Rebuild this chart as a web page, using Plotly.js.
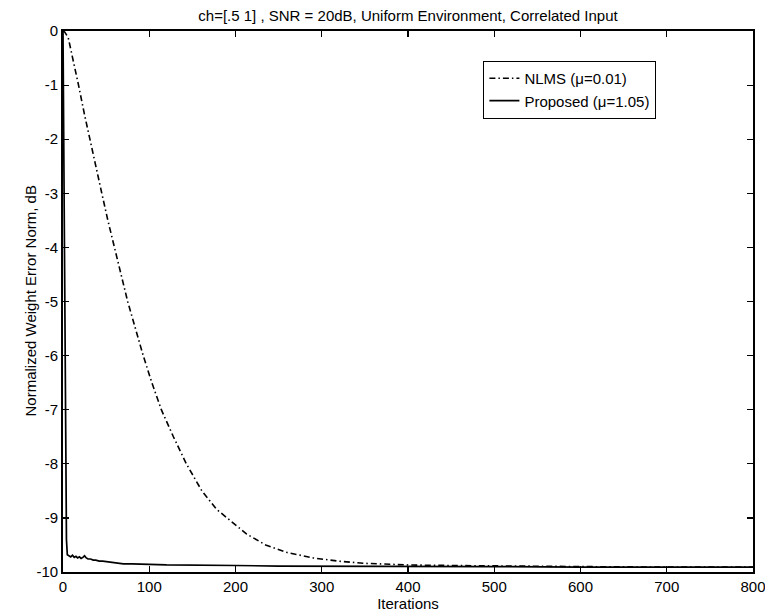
<!DOCTYPE html>
<html>
<head>
<meta charset="utf-8">
<script src="https://cdn.plot.ly/plotly-3.0.1.min.js"></script>
<style>html,body{margin:0;padding:0;background:#fff;}#chart{width:765px;height:615px;}</style>
</head>
<body>
<div id="chart"></div>
<script>
const nlmsX = [0, 2, 6, 12, 18, 25, 31, 38, 45, 52, 60, 67, 75, 84, 93, 103, 114, 128, 143, 161, 178, 194, 213, 235, 260, 290, 320, 350, 400, 450, 500, 600, 700, 800];
const nlmsY = [0, -0.02, -0.12, -0.55, -1.0, -1.55, -2.0, -2.5, -3.0, -3.5, -4.0, -4.48, -5.0, -5.5, -6.0, -6.5, -7.0, -7.5, -8.0, -8.5, -8.84, -9.05, -9.3, -9.5, -9.64, -9.74, -9.8, -9.84, -9.87, -9.88, -9.89, -9.9, -9.91, -9.91];

const propX = [0, 1, 2, 3, 4, 5, 7, 9, 11, 13, 15, 17, 19, 21, 23, 25, 27, 29, 32, 35, 38, 42, 46, 50, 55, 60, 65, 70, 80, 90, 100, 120, 150, 200, 250, 300, 400, 500, 600, 700, 800];
const propY = [0, -2.5, -5.5, -8.2, -9.4, -9.68, -9.7, -9.72, -9.69, -9.73, -9.71, -9.74, -9.72, -9.75, -9.73, -9.7, -9.74, -9.76, -9.76, -9.78, -9.78, -9.8, -9.8, -9.81, -9.82, -9.83, -9.84, -9.85, -9.85, -9.86, -9.86, -9.87, -9.87, -9.88, -9.89, -9.89, -9.9, -9.9, -9.91, -9.91, -9.91];

const xTicks = [0, 100, 200, 300, 400, 500, 600, 700, 800];
const yTicks = [0, -1, -2, -3, -4, -5, -6, -7, -8, -9, -10];

const fam = 'Liberation Sans, Arial, Helvetica, sans-serif';
const font = {family: fam, size: 15, color: '#000'};

const traces = [
  {x: nlmsX, y: nlmsY, type: 'scatter', mode: 'lines', name: 'NLMS (\u03bc=0.01)',
   line: {color: '#000', width: 1.6, dash: '6px,3px,1.5px,3px'}},
  {x: propX, y: propY, type: 'scatter', mode: 'lines', name: 'Proposed (\u03bc=1.05)',
   line: {color: '#000', width: 1.7}}
];

const layout = {
  width: 765, height: 615,
  margin: {l: 63, r: 12, t: 31, b: 43},
  paper_bgcolor: '#fff', plot_bgcolor: '#fff',
  font: font,
  showlegend: true,
  title: {text: 'ch=[.5 1] , SNR = 20dB, Uniform Environment, Correlated Input',
          font: {family: fam, size: 15, color: '#000'},
          x: 0.5, xref: 'paper', y: 1 - 16/615, yref: 'container', yanchor: 'middle'},
  xaxis: {range: [0, 800], tickvals: xTicks, ticktext: xTicks.map(String),
          showgrid: false, zeroline: false, showline: true, linecolor: '#000', linewidth: 1.8,
          mirror: 'ticks', ticks: 'inside', ticklen: 6, tickcolor: '#000', tickwidth: 1.2,
          tickfont: font, ticklabeloverflow: 'allow', automargin: false,
          title: {text: 'Iterations', font: {family: fam, size: 15, color: '#000'}, standoff: 1}},
  yaxis: {range: [-10, 0], tickvals: yTicks, ticktext: yTicks.map(String),
          showgrid: false, zeroline: false, showline: true, linecolor: '#000', linewidth: 1.8,
          mirror: 'ticks', ticks: 'inside', ticklen: 6, tickcolor: '#000', tickwidth: 1.2,
          tickfont: font, ticklabeloverflow: 'allow', automargin: false},
  annotations: [
    {text: 'Normalized Weight Error Norm, dB', xref: 'paper', yref: 'paper',
     x: (30 - 63) / 690, y: 0.5, xanchor: 'center', yanchor: 'middle', textangle: -90,
     showarrow: false, font: {family: fam, size: 15, color: '#000'}}
  ],
  legend: {x: 0.609, y: 0.945, xanchor: 'left', yanchor: 'top',
           bgcolor: '#fff', bordercolor: '#000', borderwidth: 1.2,
           font: {family: fam, size: 15, color: '#000'},
           itemwidth: 30, tracegroupgap: 0}
};

Plotly.newPlot('chart', traces, layout, {staticPlot: true, displayModeBar: false});
</script>
</body>
</html>
